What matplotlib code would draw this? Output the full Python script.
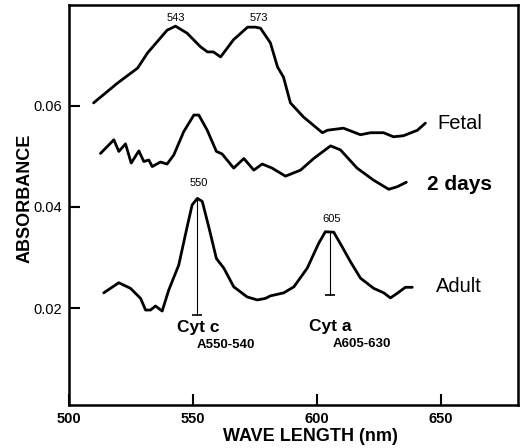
import numpy as np
import matplotlib
matplotlib.use('Agg')
import matplotlib.pyplot as plt

plt.rcParams['font.family'] = ['Liberation Sans', 'DejaVu Sans']

# spectra (wavelength nm, absorbance)
fetal_wl = [509.9, 519.5, 527.7, 531.7, 539.6, 543.0, 547.7, 553.1, 555.9, 558.3,
            561.2, 566.4, 572.1, 575.3, 577.3, 581.3, 584.2, 586.6, 589.4, 594.7,
            602.3, 604.4, 610.8, 617.7, 621.7, 627.0, 631.0, 635.0, 640.7, 643.9]
fetal_abs = [0.0606, 0.0645, 0.0675, 0.0705, 0.0750, 0.0758, 0.0744, 0.0717, 0.0707, 0.0707,
             0.0697, 0.0731, 0.0756, 0.0756, 0.0754, 0.0725, 0.0677, 0.0657, 0.0606, 0.0578,
             0.0547, 0.0552, 0.0556, 0.0543, 0.0547, 0.0547, 0.0539, 0.0541, 0.0552, 0.0566]

days2_wl = [512.7, 518.1, 520.1, 522.8, 525.1, 528.2, 530.2, 532.2, 533.6, 536.9,
            539.6, 542.3, 546.3, 550.4, 552.4, 555.8, 559.5, 561.8, 566.5, 570.6,
            574.6, 578.0, 582.0, 587.4, 593.5, 598.8, 605.6, 609.6, 616.3, 623.0,
            629.1, 632.5, 636.2]
days2_abs = [0.0506, 0.0533, 0.0510, 0.0525, 0.0487, 0.0511, 0.0490, 0.0493, 0.0480, 0.0489,
             0.0485, 0.0503, 0.0549, 0.0582, 0.0582, 0.0552, 0.0510, 0.0505, 0.0477, 0.0496,
             0.0473, 0.0485, 0.0477, 0.0461, 0.0473, 0.0496, 0.0521, 0.0513, 0.0477, 0.0453,
             0.0435, 0.0440, 0.0449]

adult_wl = [514.0, 520.1, 524.8, 528.9, 530.9, 532.9, 534.9, 537.6, 540.3, 544.3,
            547.7, 549.7, 551.8, 553.8, 556.4, 559.5, 562.5, 566.5, 571.9, 576.0,
            579.3, 581.3, 586.7, 590.8, 596.2, 600.8, 603.5, 606.9, 610.3, 613.6,
            617.7, 623.0, 627.1, 629.8, 632.5, 635.8, 638.6]
adult_abs = [0.0230, 0.0250, 0.0239, 0.0219, 0.0196, 0.0196, 0.0204, 0.0194, 0.0236, 0.0285,
             0.0361, 0.0404, 0.0417, 0.0411, 0.0361, 0.0298, 0.0279, 0.0242, 0.0222, 0.0216,
             0.0219, 0.0224, 0.0230, 0.0242, 0.0279, 0.0328, 0.0351, 0.0350, 0.0321, 0.0292,
             0.0259, 0.0239, 0.0230, 0.0220, 0.0229, 0.0241, 0.0241]

# peak markers: (label, wl, abs)
peak_labels = [('543', 543.0, 0.0774), ('573', 576.5, 0.0774),
               ('550', 552.3, 0.0448), ('605', 606.0, 0.0376)]
# cytochrome drop lines: wl, top, bottom
cyt_lines = [(551.8, 0.0417, 0.0187), (605.4, 0.0351, 0.0226)]

fig = plt.figure(figsize=(5.23, 4.48), dpi=100)
ax = fig.add_axes([0.132, 0.096, 0.858, 0.893])

kw = dict(color='black', lw=2.0, solid_joinstyle='round', solid_capstyle='round')
ax.plot(fetal_wl, fetal_abs, **kw)
ax.plot(days2_wl, days2_abs, **kw)
ax.plot(adult_wl, adult_abs, **kw)

for x, top, bot in cyt_lines:
    ax.plot([x, x], [top, bot], color='black', lw=0.8)
    ax.plot([x], [bot], marker='_', ms=7, mew=1.2, color='black')

for lab, x, y in peak_labels:
    ax.text(x, y, lab, ha='center', va='center', fontsize=8)

ax.text(648.8, 0.0566, 'Fetal', fontsize=14.5, va='center')
ax.text(644.7, 0.0444, '2 days', fontsize=15, fontweight='bold', va='center')
ax.text(648.0, 0.0242, 'Adult', fontsize=14.5, va='center')

ax.text(552.3, 0.0162, 'Cyt c', fontsize=12.5, fontweight='bold', ha='center', va='center')
ax.text(551.5, 0.0127, 'A550-540', fontsize=9.5, fontweight='bold', va='center')
ax.text(605.6, 0.0164, 'Cyt a', fontsize=12.5, fontweight='bold', ha='center', va='center')
ax.text(606.4, 0.0129, 'A605-630', fontsize=9.5, fontweight='bold', va='center')

ax.set_xlim(500, 681.2)
ax.set_ylim(0.0008, 0.080)
ax.set_xticks([500, 550, 600, 650])
ax.set_yticks([0.02, 0.04, 0.06])
ax.set_yticklabels(['0.02', '0.04', '0.06'])
ax.tick_params(axis='both', direction='in', length=8, width=1.5, labelsize=10.5, pad=5)
for t in ax.get_xticklabels():
    t.set_fontweight('bold')

for s in ax.spines.values():
    s.set_linewidth(1.8)

ax.set_xlabel('WAVE LENGTH (nm)', fontsize=13, fontweight='bold',
              ha='left', va='center')
ax.xaxis.set_label_coords(0.343, -0.078)
ax.set_ylabel('ABSORBANCE', fontsize=13, fontweight='bold', va='center')
ax.yaxis.set_label_coords(-0.098, 0.5175)

fig.savefig('out.png', dpi=100)
